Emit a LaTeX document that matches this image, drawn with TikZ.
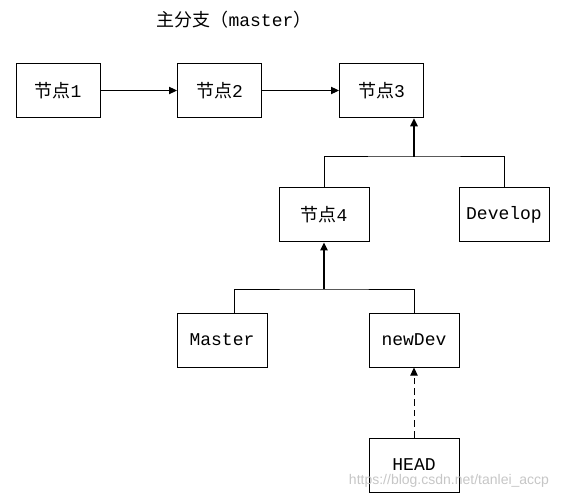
\documentclass[tikz,border=0pt]{standalone}
\usepackage{fontspec}
\setmainfont{Liberation Mono}
\newfontfamily\cjk{Noto Sans CJK SC}
\newfontfamily\wmfont{Liberation Sans}
\usetikzlibrary{arrows.meta}
\tikzset{
  commit/.style={draw,line width=.75pt,align=center,inner sep=2pt,minimum width=63pt,minimum height=41pt,font=\fontsize{13.5pt}{15pt}\selectfont},
  refbox/.style={commit,minimum width=67.5pt,minimum height=40.5pt},
  link/.style={line width=.75pt},
  linkarr/.style={-{Triangle[length=6pt,width=5.5pt]},line width=.75pt},
  uparr/.style={-{Triangle[length=6pt,width=5.5pt]},line width=1.3pt},
  headarr/.style={-{Triangle[length=6pt,width=5.5pt]},line width=.75pt,dash pattern=on 5pt off 3pt}
}

\begin{document}
\begin{tikzpicture}[x=.75pt,y=-.75pt]
  \useasboundingbox (0,0) rectangle (568,499);

  \node[font=\fontsize{13.5pt}{15pt}\selectfont] (title) at (234,20) {{\cjk 主分支（}master{\cjk ）}};

  % main line
  \node[commit] (n1) at (58,90.5) {{\cjk 节点}1};
  \node[commit] (n2) at (219.5,90.5) {{\cjk 节点}2};
  \node[commit] (n3) at (381.5,90.5) {{\cjk 节点}3};
  \draw[linkarr] (n1) -- (n2);
  \draw[linkarr] (n2) -- (n3);

  % second level
  \node[refbox] (n4) at (324,215) {{\cjk 节点}4};
  \node[refbox] (dev) at (504,215) {Develop};
  \coordinate (j1) at (414,157);
  \draw[link] (n4.north) |- (j1) -| (dev.north);
  \draw[uparr] (j1) -- (j1 |- n3.south);

  % third level
  \node[refbox] (master) at (222,340) {Master};
  \node[refbox] (newdev) at (414,340) {newDev};
  \coordinate (j2) at (324,289);
  \coordinate (m1) at (234,313);
  \draw[link] (m1) |- (j2) -| (newdev.north);
  \draw[uparr] (j2) -- (n4.south);

  % head pointer
  \node[refbox] (head) at (414,465) {HEAD};
  \draw[headarr] (head) -- (newdev);

  \node[font=\wmfont\fontsize{10.5pt}{12pt}\selectfont,text=gray!45] (mark) at (449,481) {https://blog.csdn.net/tanlei\_accp};
\end{tikzpicture}
\end{document}
